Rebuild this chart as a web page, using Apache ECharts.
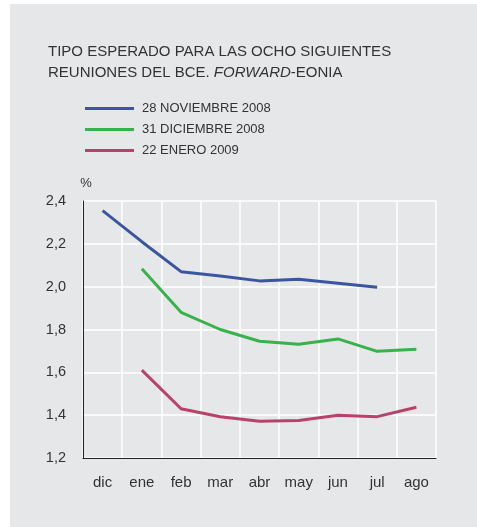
<!DOCTYPE html>
<html>
<head>
<meta charset="utf-8">
<script src="https://cdn.jsdelivr.net/npm/echarts@6/dist/echarts.min.js"></script>
<style>
  html, body { margin: 0; padding: 0; background: #fff; }
  #chart { width: 477px; height: 527px; }
</style>
</head>
<body>
<div id="chart"></div>
<script>
var months = ['dic', 'ene', 'feb', 'mar', 'abr', 'may', 'jun', 'jul', 'ago'];
var nov28 = [2.355, 2.21, 2.07, 2.05, 2.027, 2.035, 2.016, 1.997, null];
var dic31 = [null, 2.084, 1.88, 1.80, 1.745, 1.731, 1.756, 1.698, 1.708];
var ene22 = [null, 1.61, 1.43, 1.393, 1.372, 1.375, 1.40, 1.393, 1.437];
var seriesNames = ['28 NOVIEMBRE 2008', '31 DICIEMBRE 2008', '22 ENERO 2009'];
var colors = ['#3b55a0', '#36b34a', '#b8426a'];

var font = '"Liberation Sans", Arial, sans-serif';
var myChart = echarts.init(document.getElementById('chart'));

var makeLine = function (name, data, color) {
    return {
        name: name,
        type: 'line',
        data: data,
        symbol: 'none',
        lineStyle: { width: 3, color: color },
        itemStyle: { color: color }
    };
};

myChart.setOption({
    animation: false,
    textStyle: { fontFamily: font },
    graphic: [{
        type: 'rect',
        left: 10, top: 4, z: -10,
        shape: { width: 467, height: 523 },
        style: { fill: '#e6e7e9' }
    }],
    title: {
        left: 43, top: 36,
        text: 'TIPO ESPERADO PARA LAS OCHO SIGUIENTES\nREUNIONES DEL BCE. {i|FORWARD}-EONIA',
        textStyle: {
            fontFamily: font, fontSize: 15, fontWeight: 'normal', color: '#333',
            lineHeight: 21,
            rich: { i: { fontStyle: 'italic', fontSize: 15, color: '#333', lineHeight: 21, fontFamily: font } }
        }
    },
    legend: {
        orient: 'vertical',
        left: 80, top: 97,
        icon: 'rect',
        itemWidth: 49, itemHeight: 3,
        itemGap: 8,
        textStyle: { fontFamily: font, fontSize: 13, color: '#333', padding: [0, 0, 0, 3] },
        data: seriesNames
    },
    grid: { left: 83, right: 41, top: 201, bottom: 69 },
    xAxis: {
        type: 'category',
        data: months,
        boundaryGap: true,
        axisTick: { show: false },
        axisLine: { lineStyle: { color: '#222', width: 1 } },
        axisLabel: { color: '#333', fontSize: 15, margin: 17 },
        splitLine: { show: true, lineStyle: { color: '#fff', width: 1.5 } }
    },
    yAxis: {
        type: 'value',
        min: 1.2, max: 2.4, interval: 0.2,
        name: '%',
        nameGap: 11,
        nameTextStyle: { color: '#333', fontSize: 13, align: 'center', padding: [0, 0, 0, 6] },
        axisLine: { show: true, lineStyle: { color: '#222', width: 1 } },
        axisTick: { show: false },
        axisLabel: {
            color: '#333', fontSize: 14.5, margin: 17,
            formatter: function (v) { return v.toFixed(1).replace('.', ','); }
        },
        splitLine: { lineStyle: { color: '#fff', width: 1.5 } }
    },
    series: [
        makeLine(seriesNames[0], nov28, colors[0]),
        makeLine(seriesNames[1], dic31, colors[1]),
        makeLine(seriesNames[2], ene22, colors[2])
    ]
});

window.addEventListener('resize', function () {
    myChart.resize();
});
</script>
</body>
</html>
